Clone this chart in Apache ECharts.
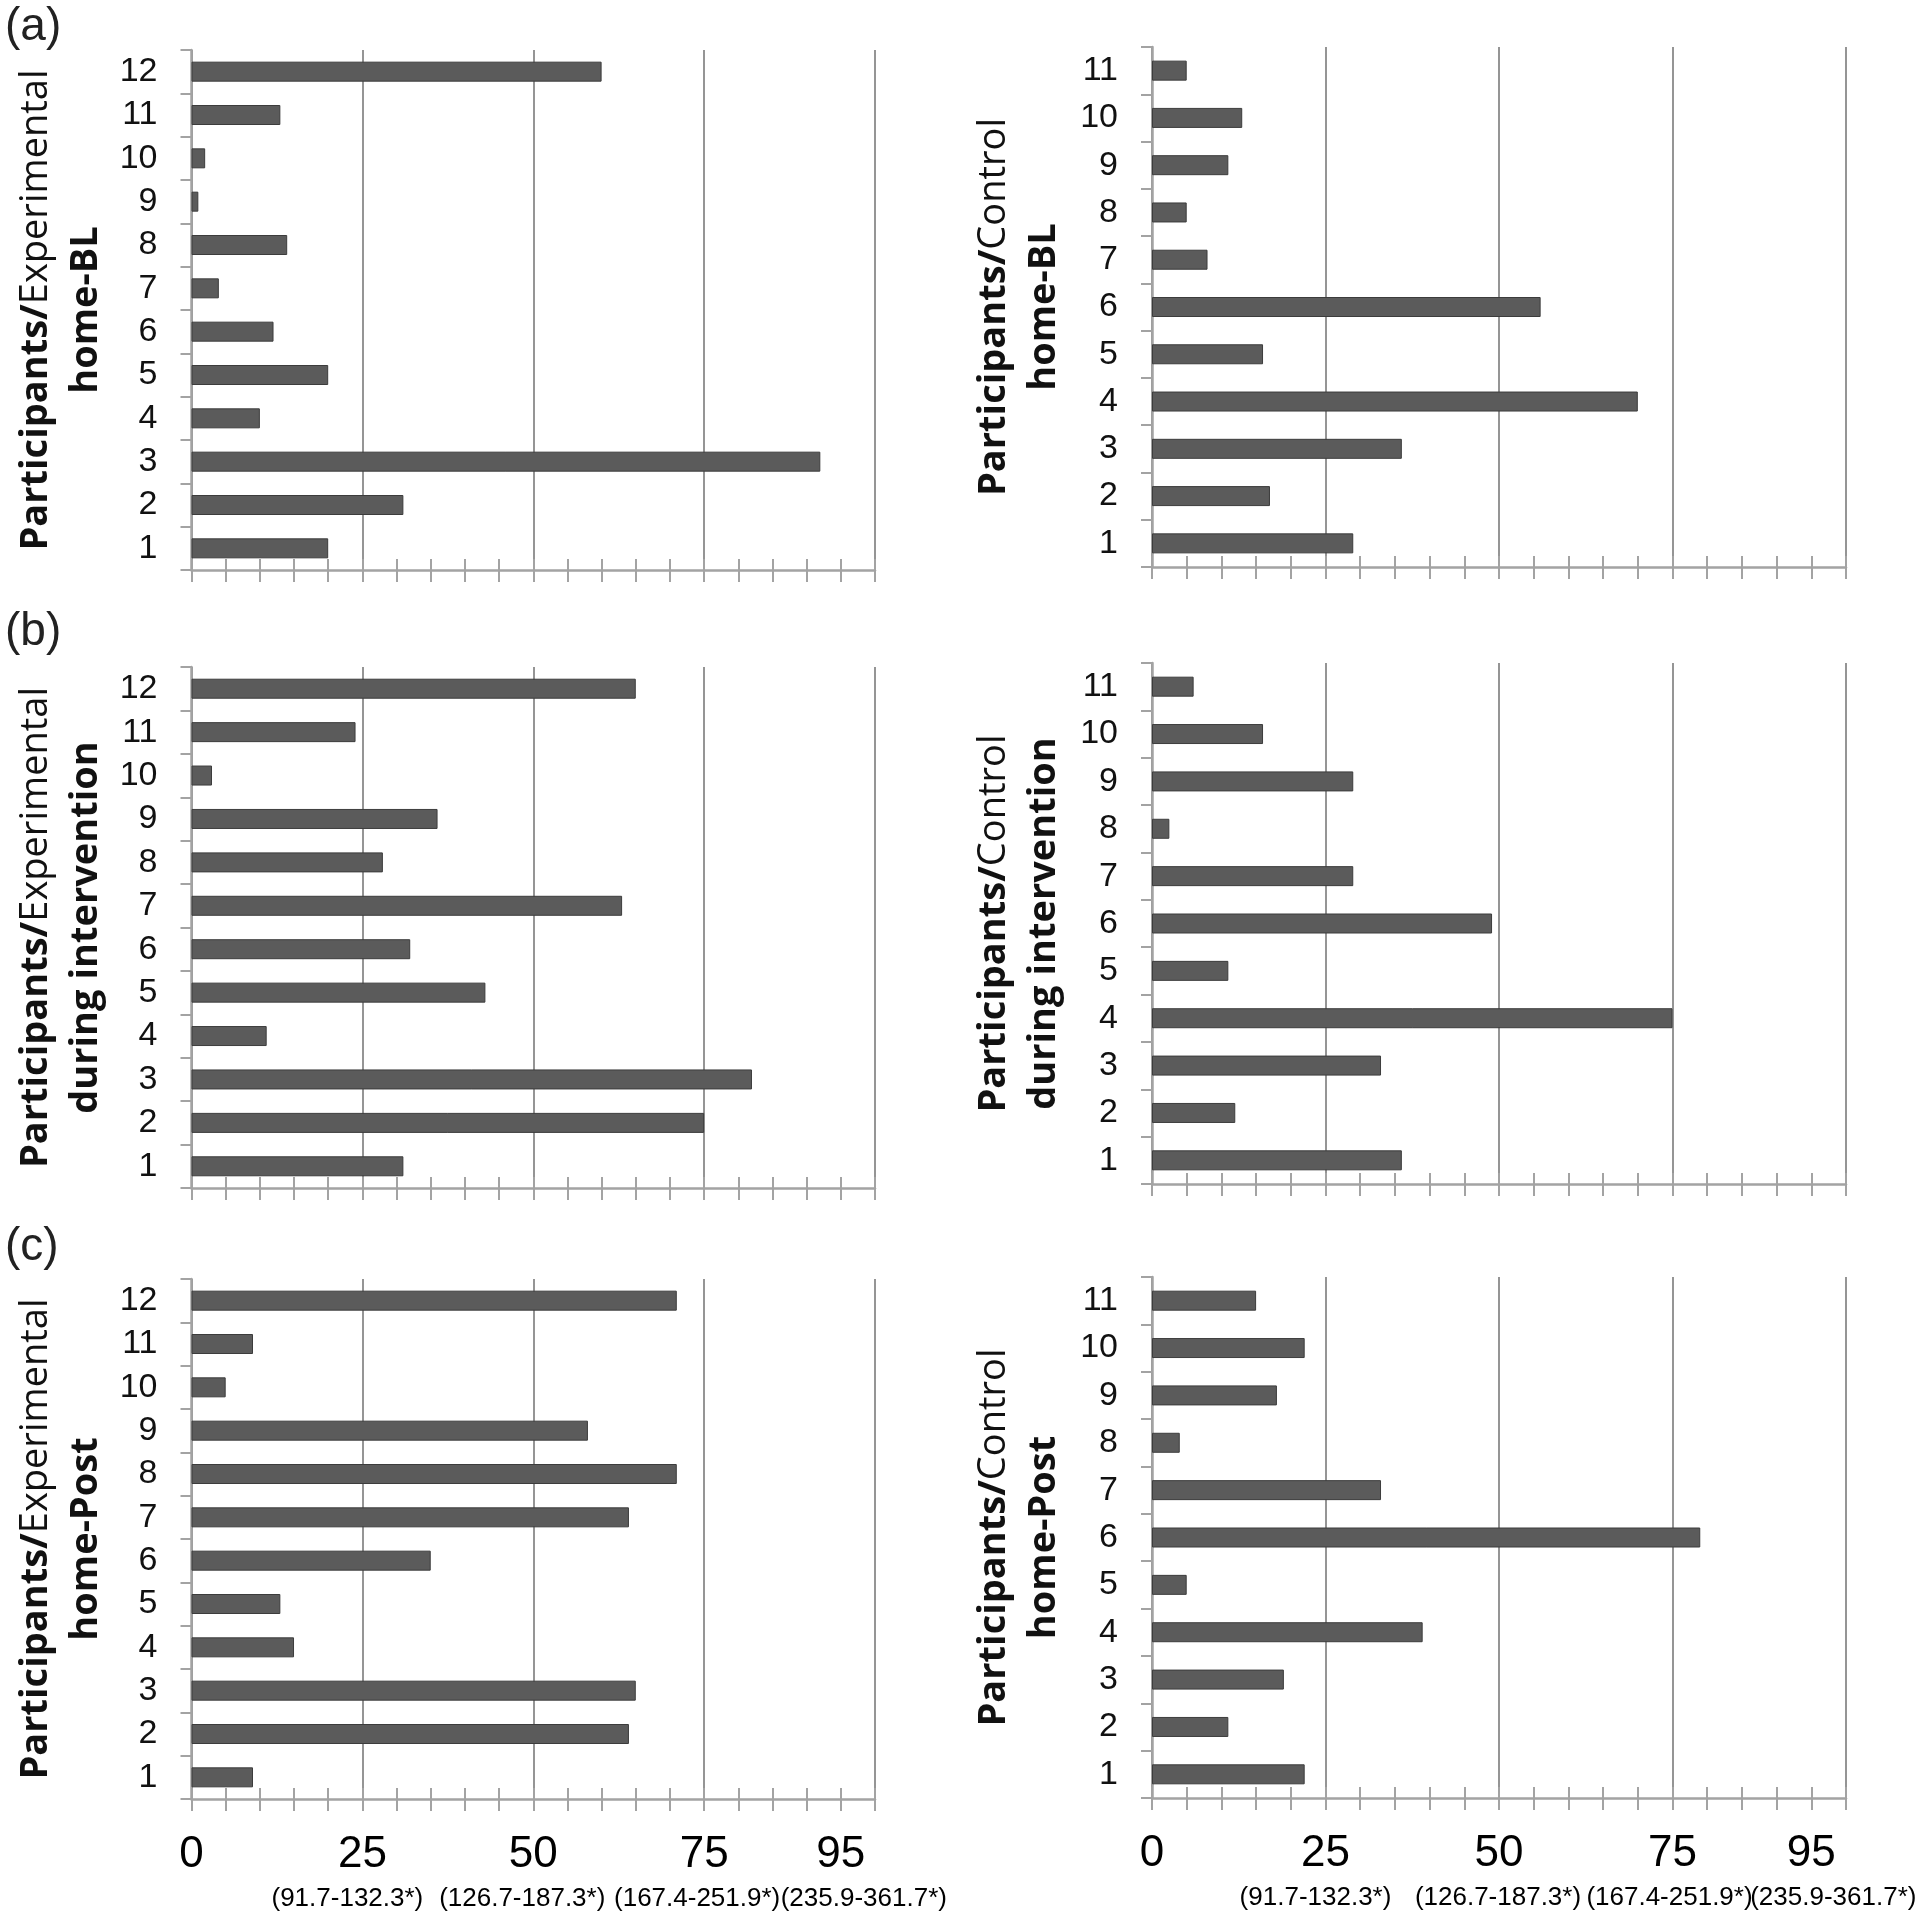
<!DOCTYPE html>
<html>
<head>
<meta charset="utf-8">
<script src="https://cdn.jsdelivr.net/npm/echarts@6/dist/echarts.min.js"></script>
<style>
html,body{margin:0;padding:0;background:#fff;}
#chart{width:1920px;height:1912px;}
</style>
</head>
<body>
<div id="chart"></div>
<script>
// ---------- data ----------
const participants12 = ['1','2','3','4','5','6','7','8','9','10','11','12'];
const participants11 = ['1','2','3','4','5','6','7','8','9','10','11'];

const experimentalBL   = [20, 31, 92, 10, 20, 12, 4, 14, 1, 2, 13, 60];
const controlBL        = [29, 17, 36, 70, 16, 56, 8, 5, 11, 13, 5];
const experimentalDuring = [31, 75, 82, 11, 43, 32, 63, 28, 36, 3, 24, 65];
const controlDuring      = [36, 12, 33, 75, 11, 49, 29, 2.5, 29, 16, 6];
const experimentalPost = [9, 64, 65, 15, 13, 35, 64, 71, 58, 5, 9, 71];
const controlPost      = [22, 11, 19, 39, 5, 79, 33, 4, 18, 22, 15];

const xTickValues = [0, 25, 50, 75, 95];
const xTickText   = ['0', '25', '50', '75', '95'];
const xSubText    = ['', '(91.7-132.3*)', '(126.7-187.3*)', '(167.4-251.9*)', '(235.9-361.7*)'];

const panelLetters = ['(a)', '(b)', '(c)'];

// ---------- layout / style ----------
const narrow = '"Liberation Sans Narrow", "Liberation Sans", sans-serif';
const titleFont = '"Open Sans", sans-serif';
const barColor = '#5b5b5b';
const gridColor = '#8a8a8a';
const axisColor = '#a3a3a3';

// sub label horizontal offsets (px; negative = left)
const subShiftLeft  = [0, -15, -11, -7, 23];
const subShiftRight = [0, -10, -1, -3, 22];

const panels = [
  {rect:{left:191.5, top:50,   width:683.5, height:520}, cats:participants12, data:experimentalBL,   group:'Experimental', phase:'home-BL',   side:'L', labels:false},
  {rect:{left:1152,  top:47,   width:694,   height:520}, cats:participants11, data:controlBL,        group:'Control',      phase:'home-BL',   side:'R', labels:false},
  {rect:{left:191.5, top:667,  width:683.5, height:521}, cats:participants12, data:experimentalDuring, group:'Experimental', phase:'during intervention', side:'L', labels:false},
  {rect:{left:1152,  top:663,  width:694,   height:521}, cats:participants11, data:controlDuring,    group:'Control',      phase:'during intervention', side:'R', labels:false},
  {rect:{left:191.5, top:1279, width:683.5, height:522}, cats:participants12, data:experimentalPost, group:'Experimental', phase:'home-Post', side:'L', labels:true},
  {rect:{left:1152,  top:1277, width:694,   height:521}, cats:participants11, data:controlPost,      group:'Control',      phase:'home-Post', side:'R', labels:true}
];

function makeRich(shifts) {
  const rich = {
    m: {fontFamily: narrow, fontSize: 44, color: '#000', lineHeight: 44, align: 'center'}
  };
  shifts.forEach((s, i) => {
    rich['s' + i] = {
      fontFamily: narrow, fontSize: 26, color: '#000', lineHeight: 44, align: 'center',
      padding: s < 0 ? [0, -2 * s, 0, 0] : [0, 0, 0, 2 * s]
    };
  });
  return rich;
}

const grids = [], xAxes = [], yAxes = [], series = [];
panels.forEach((p, i) => {
  grids.push(Object.assign({containLabel:false}, p.rect));
  const shifts = p.side === 'L' ? subShiftLeft : subShiftRight;
  // main axis: ticks below, labels
  xAxes.push({
    type:'value', gridIndex:i, min:0, max:100, interval:5, position:'bottom',
    axisLine:{show:true, lineStyle:{color:axisColor, width:2.5}},
    axisTick:{show:true, length:12, lineStyle:{color:axisColor, width:2}},
    splitLine:{show:false},
    axisLabel:{
      show:p.labels, margin:34, color:'#000',
      formatter: function (v) {
        const k = xTickValues.indexOf(v);
        if (k < 0) return '';
        let s = '{m|' + xTickText[k] + '}';
        if (xSubText[k]) s += '\n{s' + k + '|' + xSubText[k] + '}';
        return s;
      },
      rich: makeRich(shifts)
    }
  });
  // ticks above axis
  xAxes.push({
    type:'value', gridIndex:i, min:0, max:100, interval:5, position:'bottom',
    axisLine:{show:false},
    axisTick:{show:true, inside:true, length:11, lineStyle:{color:axisColor, width:2}},
    axisLabel:{show:false}, splitLine:{show:false}
  });
  // major gridlines
  xAxes.push({
    type:'value', gridIndex:i, min:0, max:100, interval:25, position:'bottom',
    axisLine:{show:false}, axisTick:{show:false}, axisLabel:{show:false},
    splitLine:{show:true, lineStyle:{color:gridColor, width:1.8}}
  });
  yAxes.push({
    type:'category', gridIndex:i, data:p.cats,
    axisLine:{show:true, lineStyle:{color:axisColor, width:2.5}},
    axisTick:{show:true, length:11, interval:0, lineStyle:{color:axisColor, width:2}},
    axisLabel:{interval:0, margin:34, fontFamily:narrow, fontSize:34, color:'#111'},
    name:'{b|Participants/}{n|' + p.group + '}\n{b|' + p.phase + '}',
    nameLocation:'middle', nameRotate:90, nameGap: p.side === 'L' ? 80 : 83,
    nameTextStyle:{
      lineHeight:50,
      rich:{
        b:{fontFamily:titleFont, fontWeight:'bold', fontSize:38, color:'#111', lineHeight:50},
        n:{fontFamily:titleFont, fontWeight:'normal', fontSize:38, color:'#111', lineHeight:50}
      }
    }
  });
  series.push({
    type:'bar', xAxisIndex:3 * i, yAxisIndex:i, data:p.data, barWidth:20,
    itemStyle:{color:barColor, borderColor:'#3c3c3c', borderWidth:1},
    silent:true, animation:false
  });
});

const titles = [
  {text:panelLetters[0], left:5, top:4},
  {text:panelLetters[1], left:5, top:609},
  {text:panelLetters[2], left:5, top:1224}
].map(t => Object.assign(t, {padding:0, textStyle:{fontFamily:'"Liberation Sans", sans-serif', fontWeight:'normal', fontSize:46, color:'#222'}}));

const chart = echarts.init(document.getElementById('chart'), null, {renderer:'canvas'});
chart.setOption({
  backgroundColor:'#fff',
  animation:false,
  title:titles,
  grid:grids,
  xAxis:xAxes,
  yAxis:yAxes,
  series:series
});
</script>
</body>
</html>
